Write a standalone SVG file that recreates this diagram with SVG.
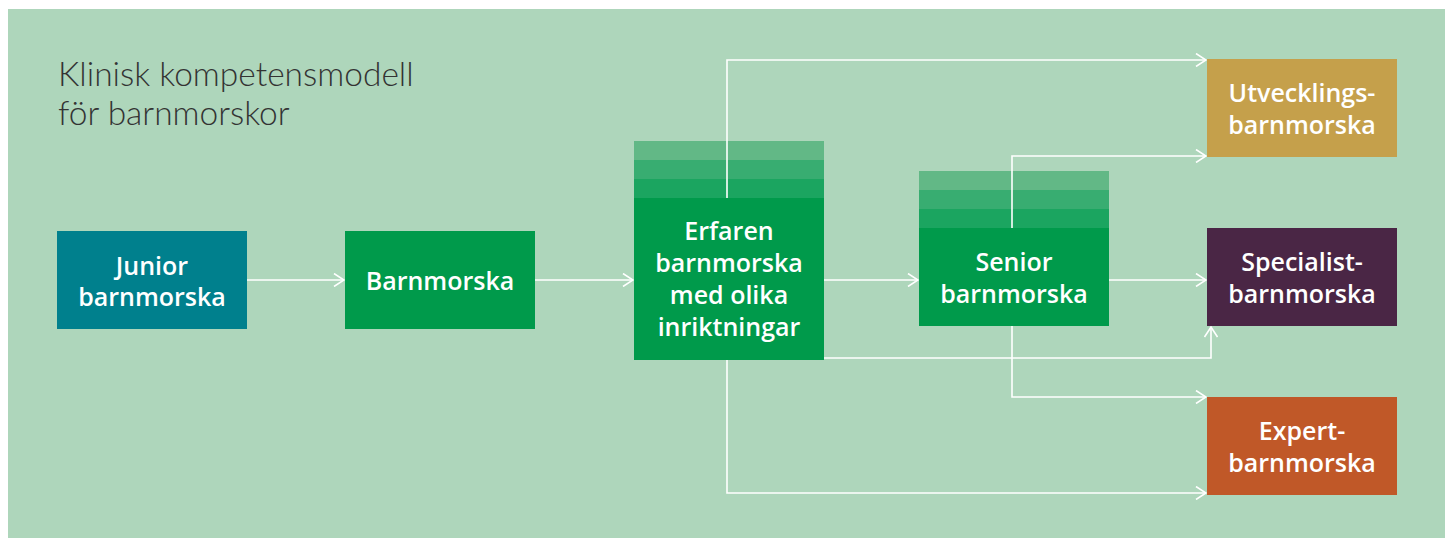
<svg xmlns="http://www.w3.org/2000/svg" width="1451" height="538" viewBox="0 0 1451 538">
<defs>
<style>
.bg{fill:#aed6bb}
.t{font-family:"Open Sans","Noto Sans",sans-serif;font-weight:600;font-size:25px;fill:#fff;text-anchor:middle}
.title{font-family:Lato,"Open Sans",sans-serif;font-weight:300;font-size:33.5px;fill:#333}
.c{fill:none;stroke:#fff;stroke-width:1.6}
.s1{fill:#62b886}.s2{fill:#38ad71}.s3{fill:#1ba560}.g{fill:#009a4b}
</style>
<marker id="ah" viewBox="0 0 12 14" refX="11" refY="7" markerWidth="12" markerHeight="14" markerUnits="userSpaceOnUse" orient="auto">
<path d="M1,0.5 L11,7 L1,13.5" fill="none" stroke="#fff" stroke-width="1.6"/>
</marker>
</defs>
<rect width="1451" height="538" fill="#fff"/>
<rect class="bg" x="8" y="9" width="1437" height="529"/>
<g id="title"><text class="title" x="58" y="86">Klinisk kompetensmodell</text><text class="title" x="58" y="125">för barnmorskor</text></g>
<g id="stripes">
<rect class="s1" x="634" y="141" width="190" height="19"/><rect class="s2" x="634" y="160" width="190" height="19"/><rect class="s3" x="634" y="179" width="190" height="19"/>
<rect class="s1" x="919" y="171" width="190" height="19"/><rect class="s2" x="919" y="190" width="190" height="19"/><rect class="s3" x="919" y="209" width="190" height="19"/>
</g>
<g id="connectors">
<path class="c" d="M247,280 H344" marker-end="url(#ah)"/>
<path class="c" d="M535,280 H633" marker-end="url(#ah)"/>
<path class="c" d="M824,280 H918" marker-end="url(#ah)"/>
<path class="c" d="M1109,280 H1206" marker-end="url(#ah)"/>
<path class="c" d="M727,198 V60 H1206" marker-end="url(#ah)"/>
<path class="c" d="M1012,228 V156 H1206" marker-end="url(#ah)"/>
<path class="c" d="M824,358 H1211 V327" marker-end="url(#ah)"/>
<path class="c" d="M1012,326 V397 H1206" marker-end="url(#ah)"/>
<path class="c" d="M727,360 V493 H1206" marker-end="url(#ah)"/>
</g>
<g id="junior"><rect x="57" y="231" width="190" height="98" fill="#00808d"/><text class="t" x="152" y="275">Junior</text><text class="t" x="152" y="306">barnmorska</text></g>
<g id="barnmorska"><rect class="g" x="345" y="231" width="190" height="98"/><text class="t" x="440" y="290">Barnmorska</text></g>
<g id="erfaren"><rect class="g" x="634" y="198" width="190" height="162"/><text class="t" x="729" y="240">Erfaren</text><text class="t" x="729" y="272">barnmorska</text><text class="t" x="729" y="304">med olika</text><text class="t" x="729" y="336">inriktningar</text></g>
<g id="senior"><rect class="g" x="919" y="228" width="190" height="98"/><text class="t" x="1014" y="271">Senior</text><text class="t" x="1014" y="303">barnmorska</text></g>
<g id="utvecklings"><rect x="1207" y="59" width="190" height="98" fill="#c5a04b"/><text class="t" x="1302" y="102">Utvecklings-</text><text class="t" x="1302" y="134">barnmorska</text></g>
<g id="specialist"><rect x="1207" y="228" width="190" height="98" fill="#4a2645"/><text class="t" x="1302" y="271">Specialist-</text><text class="t" x="1302" y="303">barnmorska</text></g>
<g id="expert"><rect x="1207" y="397" width="190" height="98" fill="#c05828"/><text class="t" x="1302" y="440">Expert-</text><text class="t" x="1302" y="472">barnmorska</text></g>
</svg>
